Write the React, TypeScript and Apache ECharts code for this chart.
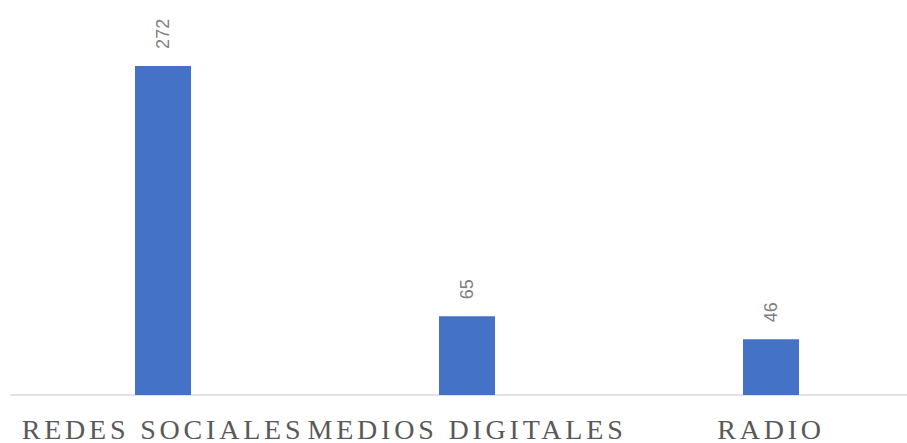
import React, { useEffect, useRef } from "react";
import * as echarts from "echarts";

const categories = ["REDES SOCIALES", "MEDIOS DIGITALES", "RADIO"];
const values = [272, 65, 46];

export default function App() {
  const ref = useRef<HTMLDivElement>(null);
  useEffect(() => {
    if (!ref.current) return;
    const chart = echarts.init(ref.current, undefined, { renderer: "svg" });
    chart.setOption({
      animation: false,
      grid: { left: 11, top: 32, width: 912, height: 363, containLabel: false },
      xAxis: {
        type: "category",
        data: categories,
        axisLine: { show: true, lineStyle: { color: "#d9d9d9", width: 1.5 } },
        axisTick: { show: false },
        axisLabel: {
          interval: 0,
          margin: 20,
          color: "#595959",
          fontFamily: "Liberation Serif",
          fontSize: 28,
        },
      },
      yAxis: { type: "value", min: 0, max: 300, show: false, splitLine: { show: false } },
      series: [
        {
          type: "bar",
          data: values,
          barWidth: 56,
          itemStyle: { color: "#4472C4" },
          label: {
            show: true,
            position: "top",
            rotate: 90,
            align: "left",
            verticalAlign: "middle",
            distance: 17,
            color: "#7f7f7f",
            fontFamily: "Liberation Sans",
            fontSize: 18,
          },
        },
      ],
    });
    const texts = ref.current.querySelectorAll("text");
    texts.forEach((t) => {
      if (categories.includes((t.textContent || "").trim())) {
        (t as SVGTextElement).style.letterSpacing = "3.8px";
      }
    });
    return () => chart.dispose();
  }, []);
  return (
    <div style={{ position: "absolute", left: 0, top: 0, width: 907, height: 443, overflow: "hidden" }}>
      <div ref={ref} style={{ width: 940, height: 443 }} />
    </div>
  );
}
